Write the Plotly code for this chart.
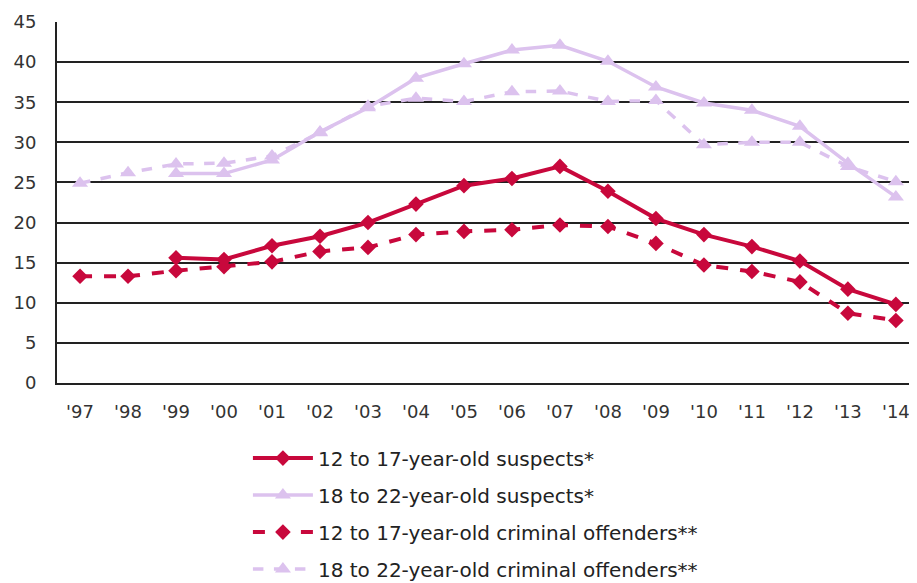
import plotly.graph_objects as go

years = ["'97", "'98", "'99", "'00", "'01", "'02", "'03", "'04", "'05",
         "'06", "'07", "'08", "'09", "'10", "'11", "'12", "'13", "'14"]

susp_12_17 = [None, None, 15.6, 15.4, 17.1, 18.3, 20.0, 22.3, 24.6,
              25.5, 27.0, 23.9, 20.5, 18.5, 17.0, 15.2, 11.7, 9.8]
susp_18_22 = [None, None, 26.1, 26.1, 27.8, 31.3, 34.3, 38.0, 39.8,
              41.5, 42.1, 40.1, 36.9, 34.9, 34.0, 32.0, 27.4, 23.2]
off_12_17 = [13.3, 13.3, 14.0, 14.5, 15.1, 16.4, 16.9, 18.5, 18.9,
             19.1, 19.7, 19.5, 17.4, 14.7, 13.9, 12.6, 8.7, 7.8]
off_18_22 = [24.9, 26.2, 27.3, 27.4, 28.3, 31.2, 34.5, 35.5, 35.1,
             36.3, 36.4, 35.1, 35.2, 29.7, 30.0, 30.0, 27.0, 25.1]

names = ["12 to 17-year-old suspects*", "18 to 22-year-old suspects*",
         "12 to 17-year-old criminal offenders**", "18 to 22-year-old criminal offenders**"]

RED = "#C8083C"
LILAC = "#DCC2EE"

fig = go.Figure()
specs = [
    (susp_12_17, RED, "solid", "diamond", 4, 12),
    (susp_18_22, LILAC, "solid", "triangle-up", 3.5, 14),
    (off_12_17, RED, "dash", "diamond", 4, 12),
    (off_18_22, LILAC, "dash", "triangle-up", 3.5, 14),
]
for i, (vals, col, dash, sym, w, ms) in enumerate(specs):
    fig.add_trace(go.Scatter(
        x=years, y=vals, name=names[i], mode="lines+markers",
        line=dict(color=col, width=w, dash=dash),
        marker=dict(symbol=sym, size=ms, color=col),
        legendgroup=f"g{i}",
    ))

fig.update_layout(
    width=917, height=610,
    margin=dict(l=49, r=8, t=14, b=235),
    paper_bgcolor="white", plot_bgcolor="white",
    font=dict(family="DejaVu Sans", color="#333333", size=17),
    xaxis=dict(
        type="category", range=[-0.48, 17.44], automargin=False,
        showgrid=False, showline=True, linecolor="#222222", linewidth=2,
        ticks="outside", ticklen=11, tickcolor="rgba(0,0,0,0)",
        tickfont=dict(size=18, color="#333333"),
    ),
    yaxis=dict(
        range=[0, 45], dtick=5, showgrid=True, gridcolor="#222222", gridwidth=2,
        showline=True, linecolor="#222222", linewidth=2, zeroline=False,
        automargin=False,
        ticks="outside", ticklen=15, tickcolor="rgba(0,0,0,0)",
        tickfont=dict(size=18, color="#333333"),
    ),
    legend=dict(
        x=0.222, y=-0.154, xanchor="left", yanchor="top",
        font=dict(size=20, color="#222222"),
        traceorder="grouped", tracegroupgap=8, itemwidth=60,
        bgcolor="rgba(0,0,0,0)",
    ),
    showlegend=True,
)

fig.write_html("out.html")
